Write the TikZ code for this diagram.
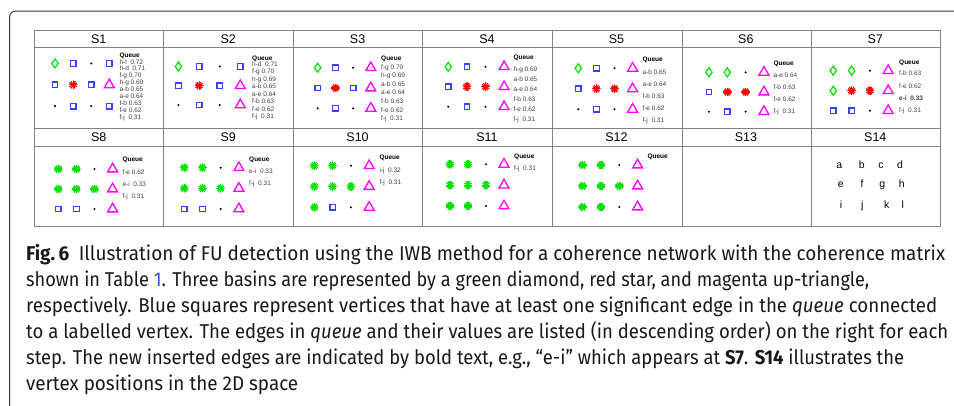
\documentclass[tikz,border=0pt]{standalone}
\usepackage{fontspec}
\usepackage{graphicx}
\setmainfont{Liberation Sans}
\newfontfamily\capfont[FakeStretch=0.9]{Fira Sans}
\usetikzlibrary{shapes.geometric}
\definecolor{mgreen}{RGB}{0,225,0}
\definecolor{mblue}{RGB}{55,65,255}
\definecolor{mred}{RGB}{250,0,0}
\definecolor{mmag}{RGB}{255,0,255}
\definecolor{rulegray}{RGB}{130,130,130}
\definecolor{framegray}{RGB}{55,55,55}
\definecolor{linkblue}{RGB}{40,90,210}
\tikzset{
  tline/.style={rulegray,line width=1pt},
  hd/.style={font=\fontsize{12.5}{13}\selectfont,inner sep=0pt},
  dia/.style={diamond,draw=mgreen,line width=1.2pt,inner sep=0pt,minimum width=7pt,minimum height=9.5pt},
  sq/.style={rectangle,draw=mblue,line width=1.3pt,inner sep=0pt,minimum size=5.5pt},
  vdot/.style={circle,fill=black,inner sep=0pt,minimum size=2.3pt},
  ast/.style={circle,inner sep=0pt,minimum size=9pt,path picture={
    \foreach \a in {0,30,...,150}
      \draw[#1,line width=1.2pt] (path picture bounding box.center) ++(\a:4.4pt) -- ++(\a+180:8.8pt);}},
  rst/.style={ast=mred},
  gst/.style={ast=mgreen},
  tri/.style={regular polygon,regular polygon sides=3,draw=mmag,line width=1.3pt,inner sep=0pt,minimum size=11.5pt},
  qhead/.style={anchor=west,inner sep=0pt,font=\fontsize{6.5}{7}\selectfont\bfseries,text height=4.7pt,text depth=0pt},
  qitem/.style={anchor=west,inner sep=0pt,font=\fontsize{6.5}{7}\selectfont,text=black!75,text height=4.7pt,text depth=0pt},
  vlbl/.style={anchor=base,inner sep=0pt,font=\fontsize{10.5}{11}\selectfont},
  capline/.style={anchor=base west,inner sep=0pt,text=black!90,font=\capfont\fontsize{20}{26}\selectfont}
}
% 4x3 grid of markers: name, x0, dx, y0, dy, styles
\newcommand{\stepmarks}[6]{%
  \foreach \s [count=\i from 0] in {#6}{
    \pgfmathtruncatemacro\mcol{mod(\i,4)}
    \pgfmathtruncatemacro\mrow{int(\i/4)}
    \node[\s] (#1-\i) at ({#2+\mcol*#3},{#4+\mrow*#5}) {};
  }}
% queue list: name, x, title y, first y, spacing, entries
\newcommand{\stepqueue}[6]{%
  \node[qhead] (#1-q) at (#2,#3) {Queue};
  \foreach \e [count=\i from 0] in {#6}
    \node[qitem] (#1-q\i) at (#2,{#4+\i*#5}) {\e};
}
\begin{document}
\begin{tikzpicture}[x=1pt,y=-1pt]
\useasboundingbox (0,0) rectangle (954,405);
\draw[framegray,line width=1pt,rounded corners=6pt] (9.7,410) -- (9.7,11) -- (960,11);

\draw[tline] (34,30) rectangle (940,226);
\foreach \y in {47,128,146} \draw[tline] (34,\y) -- (940,\y);
\foreach \x in {163,293,422,552,682,811} \draw[tline] (\x,30) -- (\x,226);
\foreach \n [count=\i from 0] in {1,...,7} \node[hd] (h\n) at ({34+(\i+0.5)*129.43},39) {S\n};
\foreach \n [count=\i from 0] in {8,...,14} \node[hd] (h\n) at ({34+(\i+0.5)*129.43},137.5) {S\n};

\stepmarks{s1}{55}{18.1}{63.5}{21.3}{dia,sq,vdot,sq, sq,rst,sq,tri, vdot,sq,vdot,sq}
\stepqueue{s1}{119.3}{55}{61.7}{6.9}{h-l\ \ 0.72,h-d\ \ 0.71,f-g 0.70,h-g 0.69,a-b 0.65,a-e 0.64,f-b 0.63,f-e 0.62,f-j\ \ 0.31}
\stepmarks{s2}{178.5}{20.6}{66.5}{19.2}{dia,sq,vdot,sq, sq,rst,sq,tri, vdot,sq,vdot,tri}
\stepqueue{s2}{252}{58}{64}{7.5}{h-d\ \ 0.71,f-g 0.70,h-g 0.69,a-b 0.65,a-e 0.64,f-b 0.63,f-e 0.62,f-j\ \ 0.31}
\stepmarks{s3}{317.7}{17.7}{67.7}{20.3}{dia,sq,vdot,tri, sq,rst,sq,tri, vdot,sq,vdot,tri}
\stepqueue{s3}{381}{57.7}{66.7}{8.6}{f-g 0.70,h-g 0.69,a-b 0.65,a-e 0.64,f-b 0.63,f-e 0.62,f-j\ \ 0.31}
\stepmarks{s4}{448.3}{18.6}{66.7}{20}{dia,sq,vdot,tri, sq,rst,rst,tri, vdot,sq,vdot,tri}
\stepqueue{s4}{513.3}{57.3}{69.3}{9.9}{h-g 0.69,a-b 0.65,a-e 0.64,f-b 0.63,f-e 0.62,f-j\ \ 0.31}
\stepmarks{s5}{578.3}{18.1}{68.3}{20.5}{dia,sq,vdot,tri, sq,rst,rst,tri, vdot,sq,vdot,tri}
\stepqueue{s5}{642.3}{59.3}{71.7}{12.1}{a-b 0.65,a-e 0.64,f-b 0.63,f-e 0.62,f-j\ \ 0.31}
\stepmarks{s6}{709}{18.3}{72.3}{19.7}{dia,dia,vdot,tri, sq,rst,rst,tri, vdot,sq,vdot,tri}
\stepqueue{s6}{773.3}{63.3}{75}{12.2}{a-e 0.64,f-b 0.63,f-e 0.62,f-j\ \ 0.31}
\stepmarks{s7}{833.3}{18.3}{70.7}{20}{dia,dia,vdot,tri, dia,rst,rst,tri, sq,sq,vdot,tri}
\stepqueue{s7}{899}{61.7}{73.3}{12.4}{f-b 0.63,f-e 0.62,\textbf{e-i\ \ 0.33},f-j\ \ 0.31}

\stepmarks{s8}{58.3}{18.1}{169}{20}{gst,gst,vdot,tri, gst,gst,gst,tri, sq,sq,vdot,tri}
\stepqueue{s8}{122.3}{159}{171.7}{12.2}{f-e 0.62,e-i\ \ 0.33,f-j\ \ 0.31}
\stepmarks{s9}{184.3}{18.2}{167.7}{20.6}{gst,gst,vdot,tri, gst,gst,gst,tri, sq,sq,vdot,tri}
\stepqueue{s9}{249}{159}{170.7}{12}{e-i\ \ 0.33,f-j\ \ 0.31}
\stepmarks{s10}{314.3}{18.3}{165.7}{20.8}{gst,gst,vdot,tri, gst,gst,gst,tri, gst,sq,vdot,tri}
\stepqueue{s10}{379.3}{157.3}{170}{11.7}{i-j\ \ 0.32,f-j\ \ 0.31}
\stepmarks{s11}{450}{18}{164.3}{20.8}{gst,gst,vdot,tri, gst,gst,gst,tri, gst,gst,vdot,tri}
\stepqueue{s11}{514}{156}{167.7}{12}{f-j\ \ 0.31}
\stepmarks{s12}{582.7}{18.3}{165}{21}{gst,gst,vdot,tri, gst,gst,gst,tri, gst,gst,vdot,tri}
\node[qhead] (s12-q) at (647.3,156) {Queue};

\node[vlbl] (va) at (839.3,168) {a};
\node[vlbl] (vb) at (861.7,168) {b};
\node[vlbl] (vc) at (881,168) {c};
\node[vlbl] (vd) at (900,168) {d};
\node[vlbl] (ve) at (840.7,187.5) {e};
\node[vlbl] (vf) at (862,187.5) {f};
\node[vlbl] (vg) at (882.3,187.5) {g};
\node[vlbl] (vh) at (901.7,187.5) {h};
\node[vlbl] (vi) at (841,208) {i};
\node[vlbl] (vj) at (862.3,208) {j};
\node[vlbl] (vk) at (886.7,208) {k};
\node[vlbl] (vl) at (902.7,208) {l};

\node[capline] (cap1) at (26,260) {\resizebox{919pt}{\height}{\textbf{Fig.\,6}\hspace{0.45em}Illustration of FU detection using the IWB method for a coherence network with the coherence matrix}};
\node[capline] (cap2) at (26,286) {\resizebox{843pt}{\height}{shown in Table \textcolor{linkblue}{1}. Three basins are represented by a green diamond, red star, and magenta up-triangle,}};
\node[capline] (cap3) at (26,312) {\resizebox{911pt}{\height}{respectively. Blue squares represent vertices that have at least one significant edge in the \textit{queue} connected}};
\node[capline] (cap4) at (26,338) {\resizebox{922pt}{\height}{to a labelled vertex. The edges in \textit{queue} and their values are listed (in descending order) on the right for each}};
\node[capline] (cap5) at (26,364) {\resizebox{878pt}{\height}{step. The new inserted edges are indicated by bold text, e.g., “e-i” which appears at \textbf{S7}. \textbf{S14} illustrates the}};
\node[capline] (cap6) at (26,390) {\resizebox{272pt}{\height}{vertex positions in the 2D space}};
\end{tikzpicture}
\end{document}
